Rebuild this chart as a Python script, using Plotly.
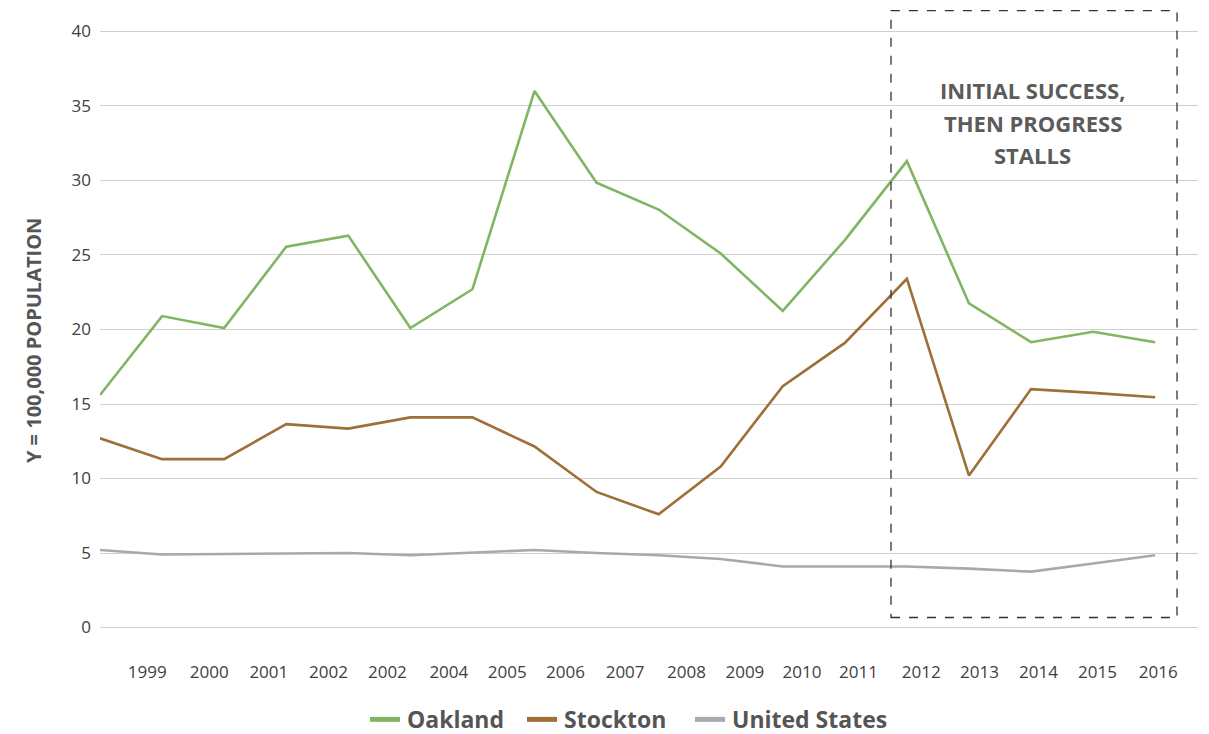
import plotly.graph_objects as go

# Homicide rate per 100,000 population, one point per year
years = list(range(1999, 2017))
oakland = [15.6, 20.9, 20.1, 25.55, 26.3, 20.1, 22.7, 36.0, 29.85, 28.05,
           25.1, 21.25, 26.0, 31.3, 21.75, 19.15, 19.85, 19.15]
stockton = [12.7, 11.3, 11.3, 13.65, 13.35, 14.1, 14.1, 12.15, 9.1, 7.6,
            10.8, 16.2, 19.1, 23.4, 10.2, 16.0, 15.75, 15.45]
united_states = [5.2, 4.9, 4.93, 4.97, 5.0, 4.85, 5.05, 5.2, 5.0, 4.85,
                 4.6, 4.1, 4.1, 4.1, 3.95, 3.75, 4.3, 4.85]

# Printed year labels along the bottom axis
tick_labels = ["1999", "2000", "2001", "2002", "2002", "2004", "2005", "2006",
               "2007", "2008", "2009", "2010", "2011", "2012", "2013", "2014",
               "2015", "2016"]

series_names = ["Oakland", "Stockton", "United States"]
series_values = [oakland, stockton, united_states]
series_colors = ["#82b563", "#9e6f36", "#a9a9ad"]

callout_lines = ["INITIAL SUCCESS,", "THEN PROGRESS", "STALLS"]

# point index used as the x coordinate
xs = list(range(len(years)))
# label anchor positions along the index axis
label_pos = [0.76, 1.76, 2.72, 3.68, 4.63, 5.62, 6.56, 7.50, 8.46, 9.45,
             10.39, 11.31, 12.22, 13.23, 14.17, 15.12, 16.07, 17.05]

fig = go.Figure()
for name, vals, col in zip(series_names, series_values, series_colors):
    fig.add_trace(go.Scatter(x=xs, y=vals, mode="lines", name=name,
                             line=dict(color=col, width=2.6),
                             showlegend=False, hoverinfo="x+y"))

W, H = 1209, 734
ml, mr, mt, mb = 100, 11, 27, 102
BOLD = "Open Sans, sans-serif"

fig.update_layout(
    width=W, height=H,
    margin=dict(l=ml, r=mr, t=mt, b=mb, pad=0, autoexpand=False),
    paper_bgcolor="white", plot_bgcolor="white",
    font=dict(family="Open Sans, sans-serif", color="#404040"),
    xaxis=dict(range=[0, 17.69], showgrid=False, zeroline=False,
               showline=False, ticks="", tickmode="array",
               tickvals=label_pos, ticktext=tick_labels,
               tickfont=dict(size=17, color="#404040"),
               ticklabelstandoff=28, automargin=False),
    yaxis=dict(range=[-0.3, 40.3], tickmode="array",
               tickvals=[0, 5, 10, 15, 20, 25, 30, 35, 40],
               showgrid=True, gridcolor="#cfcfcf", gridwidth=1,
               zeroline=False, showline=False, ticks="",
               tickfont=dict(size=17, color="#404040"),
               ticklabelstandoff=8, automargin=False),
    showlegend=False,
)

# legend row under the axis: colour key stroke followed by series name
key_y = -0.1444
key_x0 = [0.2459, 0.3889, 0.5419]
key_len = 0.0273
for name, col, kx in zip(series_names, series_colors, key_x0):
    fig.add_shape(type="line", xref="paper", yref="paper",
                  x0=kx, x1=kx + key_len, y0=key_y, y1=key_y,
                  line=dict(color=col, width=5))
    fig.add_annotation(xref="paper", yref="paper", x=kx + key_len + 0.0046,
                       y=key_y, xanchor="left", yanchor="middle",
                       showarrow=False, text=name,
                       font=dict(family=BOLD, size=23, color="#555555",
                                 weight="bold"))

# dashed frame around the later years
fig.add_shape(type="rect", xref="paper", yref="paper",
              x0=0.7204, x1=0.9809, y0=0.024, y1=1.027,
              line=dict(color="#333333", width=1.3, dash="dash"),
              fillcolor="rgba(0,0,0,0)", layer="above")

for line_text, ly in zip(callout_lines, [0.8952, 0.8416, 0.7880]):
    fig.add_annotation(xref="paper", yref="paper", x=0.8497, y=ly,
                       xanchor="center", yanchor="middle", showarrow=False,
                       text=line_text, align="center",
                       font=dict(family=BOLD, size=22,
                                 color="#5b5b5b", weight="bold"))

fig.add_annotation(xref="paper", yref="paper", x=-0.060, y=0.481,
                   xanchor="center", yanchor="middle", showarrow=False,
                   textangle=-90, text="Y = 100,000 POPULATION",
                   font=dict(family=BOLD, size=20,
                             color="#555555", weight="bold"))

fig.write_html("out.html")
